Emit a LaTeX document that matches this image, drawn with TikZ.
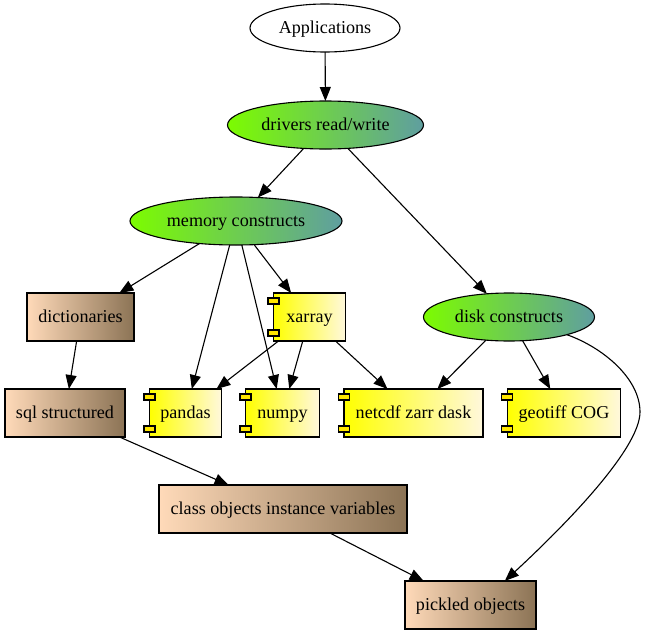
\documentclass[tikz,border=0pt]{standalone}
\usepackage{fontspec}
\setmainfont{Liberation Serif}
\usetikzlibrary{arrows.meta,calc,shapes.geometric}
\definecolor{tabyellow}{HTML}{FFE600}
\definecolor{lawn}{HTML}{7CFC00}
\definecolor{cadet}{HTML}{5F9EA0}
\definecolor{peach}{HTML}{FFDAB9}
\definecolor{burly}{HTML}{8B7355}
\definecolor{corn}{HTML}{FFF8DC}
\tikzset{
  basenode/.style={draw,line width=1.1pt,inner sep=0pt,outer sep=0pt,text height=14pt,text depth=2.5pt,font=\fontsize{18.1}{20}\selectfont},
  plainoval/.style={basenode,ellipse,minimum width=150pt,minimum height=48pt},
  greenoval/.style={basenode,ellipse,minimum height=48pt,left color=lawn,right color=cadet},
  brownbox/.style={basenode,rectangle,minimum height=48pt,left color=peach,right color=burly},
  compbox/.style={basenode,rectangle,minimum height=48pt,left color=yellow,right color=corn},
  tabbox/.style={draw,line width=1.1pt,fill=tabyellow},
  linkarrow/.style={draw,line width=1.1pt,-{Triangle[length=14pt,width=11pt]}}
}
\begin{document}
\begin{tikzpicture}[x=1pt,y=-1pt]

  \useasboundingbox (0,0) rectangle (646,635);

  \node[plainoval] (app) at (325,28) {Applications};
  \node[greenoval,minimum width=196pt] (drivers) at (325.5,125) {drivers read/write};
  \node[greenoval,minimum width=212pt] (memory) at (236,221) {memory constructs};
  \node[greenoval,minimum width=171pt] (disk) at (509,317) {disk constructs};

  \node[brownbox,minimum width=107pt] (dicts) at (80.5,317) {dictionaries};
  \node[brownbox,minimum width=120pt] (sql) at (65,413) {sql structured};
  \node[brownbox,minimum width=248pt] (class) at (283,509) {class objects instance variables};
  \node[brownbox,minimum width=131pt] (pickled) at (470.5,605) {pickled objects};

  \node[compbox,minimum width=72pt] (xarray) at (309.5,317) {xarray};
  \node[compbox,minimum width=72pt] (pandas) at (185.5,413) {pandas};
  \node[compbox,minimum width=74pt] (numpy) at (282.5,413) {numpy};
  \node[compbox,minimum width=139pt] (netcdf) at (413.5,413) {netcdf zarr dask};
  \node[compbox,minimum width=113.5pt] (geotiff) at (564,413) {geotiff COG};

  % the two tabs on each component
  \foreach \comp in {xarray,pandas,numpy,netcdf,geotiff} {
    \draw[tabbox] ($(\comp.north west)+(-5.5,5)$) rectangle ($(\comp.north west)+(5.5,11)$);
    \draw[tabbox] ($(\comp.south west)+(-5.5,-5)$) rectangle ($(\comp.south west)+(5.5,-11)$);
  }

  \begin{scope}[every edge/.style={linkarrow}]
    \path (app)     edge (drivers);
    \path (drivers) edge (memory);
    \path (drivers) edge (disk);
    \path (memory)  edge (dicts);
    \path (memory)  edge (pandas);
    \path (memory)  edge (numpy);
    \path (memory)  edge (xarray);
    \path (xarray)  edge (pandas);
    \path (xarray)  edge (numpy);
    \path (xarray)  edge (netcdf);
    \path (disk)    edge (netcdf);
    \path (disk)    edge (geotiff);
    \path (dicts)   edge (sql);
    \path (sql)     edge (class);
    \path (class)   edge (pickled);
  \end{scope}

  \draw[linkarrow] (disk.-17.5) .. controls (602,347) and (640,378) .. (640,412)
    .. controls (640,450) and (560,530) .. (pickled.35);

\end{tikzpicture}
\end{document}
